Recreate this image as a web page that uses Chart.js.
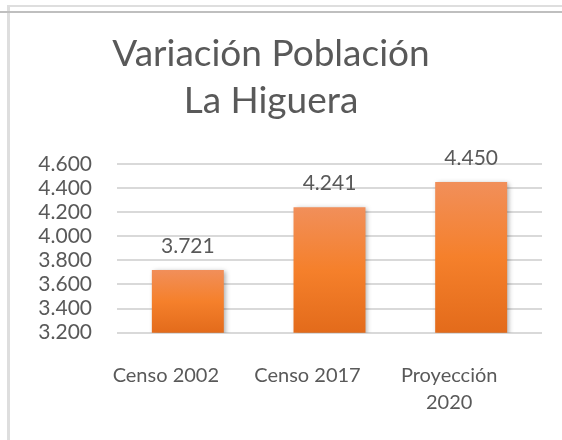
<!DOCTYPE html>
<html>
<head>
<meta charset="utf-8">
<script src="https://cdn.jsdelivr.net/npm/chart.js@4/dist/chart.umd.min.js"></script>
<style>
html,body{margin:0;padding:0;background:#fff;}
canvas{display:block;}
</style>
</head>
<body>
<canvas id="c" width="562" height="440"></canvas>
<script>
const categories = ['Censo 2002', 'Censo 2017', ['Proyección', '2020']];
const poblacion = [3721, 4241, 4450];
const titleLines = ['Variación Población', 'La Higuera'];
const yMin = 3200, yMax = 4600, yStep = 200;

const FONT = "Lato, 'Open Sans', sans-serif";
const TEXT = '#595959';

function fmt(v) {
  return String(Math.round(v)).replace(/\B(?=(\d{3})+(?!\d))/g, '.');
}

const frame = {
  id: 'frame',
  beforeDraw(chart) {
    const ctx = chart.ctx;
    ctx.save();
    ctx.fillStyle = '#fff';
    ctx.fillRect(0, 0, chart.width, chart.height);
    ctx.fillStyle = '#dedede';
    ctx.fillRect(7, 5, chart.width - 7, 2);
    ctx.fillRect(7, 5, 3, chart.height - 5);
    ctx.fillStyle = '#bfbfbf';
    ctx.fillRect(0, 11, chart.width, 2);
    ctx.restore();
  }
};

const shadow = {
  id: 'shadow',
  beforeDatasetsDraw(chart) {
    const ctx = chart.ctx;
    ctx.save();
    ctx.shadowColor = 'rgba(0,0,0,0.35)';
    ctx.shadowBlur = 5;
    ctx.shadowOffsetX = 2;
    ctx.shadowOffsetY = 1;
  },
  afterDatasetsDraw(chart) {
    const ctx = chart.ctx;
    ctx.restore();
    const meta = chart.getDatasetMeta(0);
    ctx.save();
    ctx.font = '21px ' + FONT;
    ctx.fillStyle = TEXT;
    ctx.textAlign = 'center';
    ctx.textBaseline = 'middle';
    meta.data.forEach((bar, i) => {
      ctx.fillText(fmt(chart.data.datasets[0].data[i]), bar.x, bar.y - 24);
    });
    ctx.restore();
  }
};

new Chart(document.getElementById('c'), {
  type: 'bar',
  data: {
    labels: categories,
    datasets: [{
      data: poblacion,
      borderWidth: 0,
      categoryPercentage: 1,
      barPercentage: 0.508,
      backgroundColor(context) {
        const chart = context.chart;
        const area = chart.chartArea;
        if (!area || context.type !== 'data') return '#f47f2a';
        const top = chart.scales.y.getPixelForValue(context.raw);
        const g = chart.ctx.createLinearGradient(0, top, 0, area.bottom);
        g.addColorStop(0, '#f18f5a');
        g.addColorStop(0.5, '#f5802b');
        g.addColorStop(1, '#e36b1b');
        return g;
      }
    }]
  },
  options: {
    responsive: false,
    animation: false,
    devicePixelRatio: 1,
    layout: { padding: { left: 0, right: 20, top: 0, bottom: 24.5 } },
    plugins: {
      legend: { display: false },
      tooltip: { enabled: false },
      title: {
        display: true,
        text: titleLines,
        color: TEXT,
        font: { family: FONT, size: 37, weight: 'normal', lineHeight: 1.27 },
        padding: { top: 30.5, bottom: 39.5 }
      }
    },
    scales: {
      x: {
        grid: { display: false, drawTicks: false },
        border: { display: false },
        afterFit(scale) { scale.height = 82.8; },
        ticks: {
          color: TEXT,
          font: { family: FONT, size: 20, lineHeight: 1.35 },
          padding: 29,
          labelOffset: -22,
          maxRotation: 0,
          minRotation: 0,
          autoSkip: false
        }
      },
      y: {
        min: yMin,
        max: yMax,
        grid: { color: '#d9d9d9', lineWidth: 2, drawTicks: false },
        border: { display: false },
        afterFit(scale) { scale.width = 117; },
        ticks: {
          stepSize: yStep,
          autoSkip: false,
          color: TEXT,
          font: { family: FONT, size: 21 },
          padding: 25,
          callback: (v) => fmt(v)
        }
      }
    }
  },
  plugins: [frame, shadow]
});
</script>
</body>
</html>
